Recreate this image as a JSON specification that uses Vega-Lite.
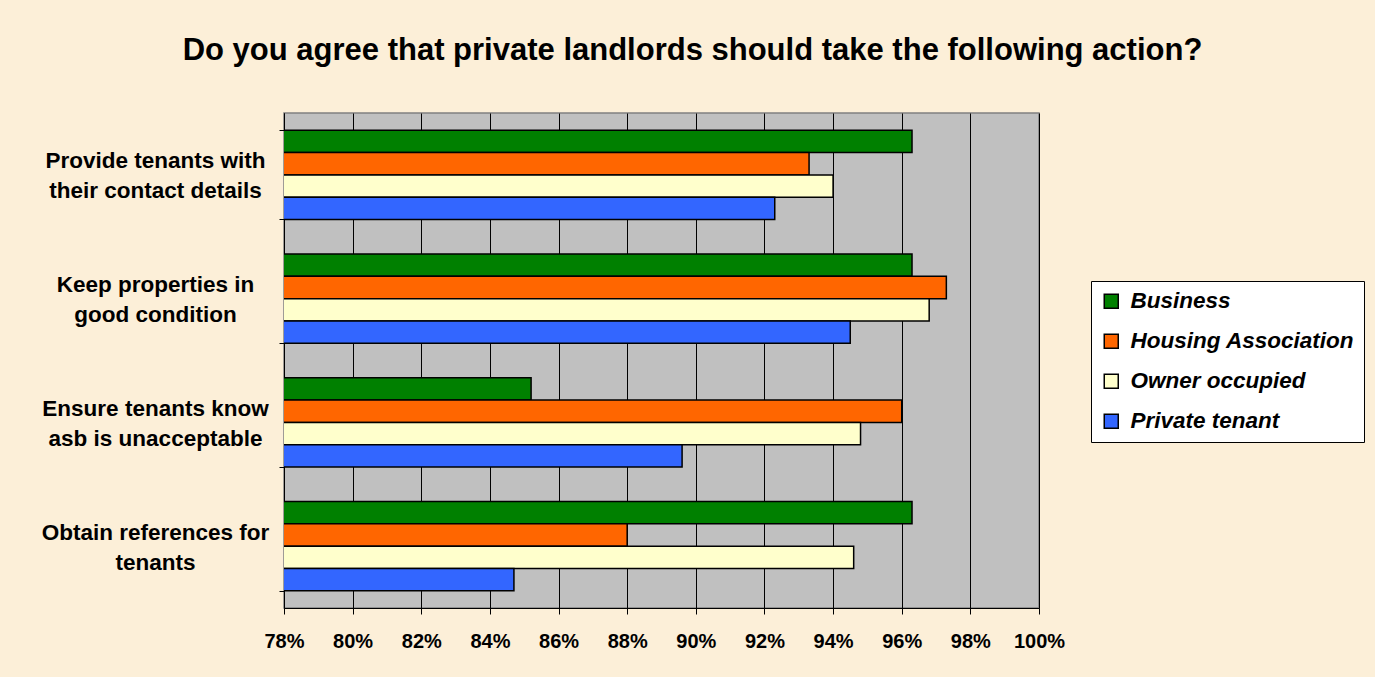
{
  "$schema": "https://vega.github.io/schema/vega-lite/v6.json",
  "width": 755,
  "height": 495,
  "autosize": {"type": "none"},
  "padding": {"left": 284, "top": 113, "right": 336, "bottom": 69},
  "background": "#FCEFD8",
  "title": {
    "text": "Do you agree that private landlords should take the following action?",
    "font": "Liberation Sans",
    "fontSize": 31,
    "fontWeight": "bold",
    "color": "#000000",
    "anchor": "middle",
    "frame": "group",
    "dx": 31,
    "offset": 35
  },
  "data": {
    "values": [
      {"action": "Provide tenants with their contact details", "group": "Business", "pct": 0.963},
      {"action": "Provide tenants with their contact details", "group": "Housing Association", "pct": 0.933},
      {"action": "Provide tenants with their contact details", "group": "Owner occupied", "pct": 0.940},
      {"action": "Provide tenants with their contact details", "group": "Private tenant", "pct": 0.923},
      {"action": "Keep properties in good condition", "group": "Business", "pct": 0.963},
      {"action": "Keep properties in good condition", "group": "Housing Association", "pct": 0.973},
      {"action": "Keep properties in good condition", "group": "Owner occupied", "pct": 0.968},
      {"action": "Keep properties in good condition", "group": "Private tenant", "pct": 0.945},
      {"action": "Ensure tenants know asb is unacceptable", "group": "Business", "pct": 0.852},
      {"action": "Ensure tenants know asb is unacceptable", "group": "Housing Association", "pct": 0.960},
      {"action": "Ensure tenants know asb is unacceptable", "group": "Owner occupied", "pct": 0.948},
      {"action": "Ensure tenants know asb is unacceptable", "group": "Private tenant", "pct": 0.896},
      {"action": "Obtain references for tenants", "group": "Business", "pct": 0.963},
      {"action": "Obtain references for tenants", "group": "Housing Association", "pct": 0.880},
      {"action": "Obtain references for tenants", "group": "Owner occupied", "pct": 0.946},
      {"action": "Obtain references for tenants", "group": "Private tenant", "pct": 0.847}
    ]
  },
  "mark": {"type": "bar", "stroke": "#000000", "strokeWidth": 1.5, "clip": true},
  "encoding": {
    "y": {
      "field": "action",
      "type": "nominal",
      "sort": null,
      "scale": {"paddingInner": 0.28, "paddingOuter": 0.14},
      "axis": {
        "title": null,
        "domain": true,
        "domainColor": "#000000",
        "tickBand": "extent",
        "ticks": true,
        "tickSize": 5,
        "tickColor": "#000000",
        "labelAlign": "center",
        "labelPadding": 124,
        "labelOffset": -14,
        "labelFont": "Liberation Sans",
        "labelFontSize": 22.5,
        "labelFontWeight": "bold",
        "labelColor": "#000000",
        "labelLineHeight": 30,
        "labelLimit": 400,
        "labelExpr": "datum.value == 'Provide tenants with their contact details' ? ['Provide tenants with', 'their contact details'] : datum.value == 'Keep properties in good condition' ? ['Keep properties in', 'good condition'] : datum.value == 'Ensure tenants know asb is unacceptable' ? ['Ensure tenants know', 'asb is unacceptable'] : datum.value == 'Obtain references for tenants' ? ['Obtain references for', 'tenants'] : ''"
      }
    },
    "yOffset": {
      "field": "group",
      "type": "nominal",
      "sort": ["Business", "Housing Association", "Owner occupied", "Private tenant"],
      "scale": {"paddingInner": 0, "paddingOuter": 0}
    },
    "x": {
      "field": "pct",
      "type": "quantitative",
      "scale": {"domain": [0.78, 1.0], "zero": false, "nice": false},
      "axis": {
        "title": null,
        "values": [0.78, 0.80, 0.82, 0.84, 0.86, 0.88, 0.90, 0.92, 0.94, 0.96, 0.98, 1.0],
        "format": ".0%",
        "grid": true,
        "gridColor": "#000000",
        "gridWidth": 1,
        "domain": true,
        "domainColor": "#000000",
        "ticks": true,
        "tickSize": 6,
        "tickColor": "#000000",
        "labelPadding": 17,
        "labelFont": "Liberation Sans",
        "labelFontSize": 20,
        "labelFontWeight": "bold",
        "labelColor": "#000000",
        "labelFlush": false
      }
    },
    "color": {
      "field": "group",
      "type": "nominal",
      "sort": ["Business", "Housing Association", "Owner occupied", "Private tenant"],
      "scale": {
        "domain": ["Business", "Housing Association", "Owner occupied", "Private tenant"],
        "range": ["#008000", "#FF6600", "#FFFFCC", "#3366FF"]
      },
      "legend": {
        "title": null,
        "orient": "none",
        "legendX": 807,
        "legendY": 168,
        "fillColor": "#FFFFFF",
        "strokeColor": "#000000",
        "padding": 9,
        "symbolType": "square",
        "symbolSize": 196,
        "symbolStrokeColor": "#000000",
        "symbolStrokeWidth": 1.5,
        "symbolOpacity": 1,
        "labelFont": "Liberation Sans",
        "labelFontSize": 22.5,
        "labelFontWeight": "bold",
        "labelFontStyle": "italic",
        "labelColor": "#000000",
        "labelOffset": 8,
        "labelLimit": 400,
        "rowPadding": 17
      }
    }
  },
  "config": {
    "view": {"fill": "#C0C0C0", "stroke": "#808080", "strokeWidth": 1.5}
  }
}
